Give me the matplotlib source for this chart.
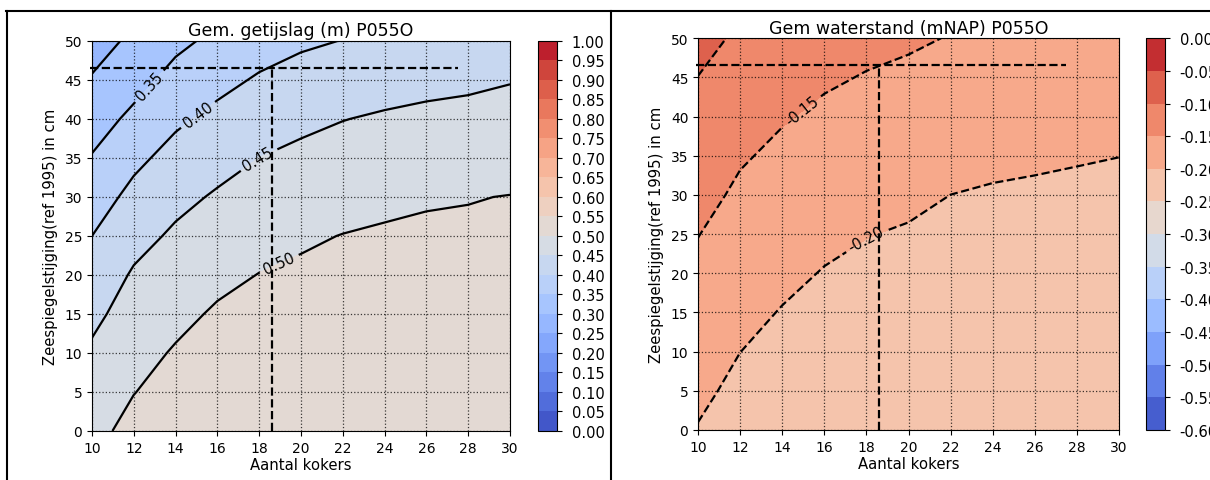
import numpy as np
import matplotlib
matplotlib.use('Agg')
import matplotlib.pyplot as plt
from matplotlib.lines import Line2D

# grid: aantal kokers (x) en zeespiegelstijging in cm (y)
kokers = [10, 12, 14, 16, 18, 20, 22, 24, 26, 28, 30]
stijging = [0, 5, 10, 15, 20, 25, 30, 35, 40, 45, 50]

# gemiddelde getijslag (m), rijen = stijging, kolommen = kokers
getijslag = [
    [0.488, 0.5125, 0.526, 0.535, 0.539, 0.541, 0.542, 0.542, 0.542, 0.542, 0.542],
    [0.472, 0.499, 0.515, 0.525, 0.530, 0.532, 0.534, 0.534, 0.534, 0.534, 0.535],
    [0.457, 0.485, 0.504, 0.514, 0.520, 0.523, 0.526, 0.526, 0.527, 0.527, 0.528],
    [0.439, 0.470, 0.4885, 0.5055, 0.510, 0.514, 0.517, 0.518, 0.520, 0.520, 0.521],
    [0.420, 0.455, 0.473, 0.489, 0.501, 0.5065, 0.509, 0.511, 0.512, 0.513, 0.514],
    [0.400, 0.435, 0.457, 0.472, 0.484, 0.4945, 0.501, 0.5045, 0.506, 0.506, 0.507],
    [0.377, 0.413, 0.438, 0.455, 0.467, 0.476, 0.484, 0.4915, 0.4965, 0.4985, 0.501],
    [0.353, 0.389, 0.416, 0.434, 0.4502, 0.460, 0.467, 0.472, 0.476, 0.479, 0.483],
    [0.328, 0.361, 0.392, 0.412, 0.427, 0.440, 0.449, 0.455, 0.459, 0.461, 0.466],
    [0.304, 0.333, 0.366, 0.387, 0.405, 0.417, 0.425, 0.433, 0.439, 0.443, 0.448],
    [0.279, 0.310, 0.339, 0.361, 0.380, 0.393, 0.401, 0.410, 0.417, 0.422, 0.427],
]

# gemiddelde waterstand (mNAP)
waterstand = [
    [-0.202, -0.218, -0.227, -0.233, -0.236, -0.237, -0.240, -0.240, -0.239, -0.238, -0.238],
    [-0.192, -0.209, -0.219, -0.225, -0.229, -0.230, -0.233, -0.233, -0.233, -0.233, -0.233],
    [-0.181, -0.1998, -0.210, -0.217, -0.221, -0.223, -0.226, -0.227, -0.227, -0.227, -0.227],
    [-0.171, -0.189, -0.202, -0.209, -0.214, -0.217, -0.220, -0.221, -0.221, -0.221, -0.222],
    [-0.160, -0.178, -0.191, -0.202, -0.207, -0.210, -0.213, -0.215, -0.215, -0.216, -0.216],
    [-0.149, -0.168, -0.180, -0.191, -0.199, -0.203, -0.207, -0.208, -0.209, -0.210, -0.211],
    [-0.137, -0.157, -0.169, -0.180, -0.187, -0.193, -0.2001, -0.2035, -0.205, -0.204, -0.205],
    [-0.125, -0.146, -0.158, -0.168, -0.175, -0.181, -0.188, -0.192, -0.195, -0.1985, -0.1998],
    [-0.113, -0.132, -0.147, -0.157, -0.164, -0.169, -0.176, -0.181, -0.184, -0.187, -0.190],
    [-0.1005, -0.119, -0.134, -0.145, -0.152, -0.157, -0.165, -0.170, -0.173, -0.176, -0.180],
    [-0.088, -0.106, -0.122, -0.133, -0.140, -0.145, -0.1515, -0.158, -0.162, -0.166, -0.170],
]

levels_getij = [round(0.05 * i, 2) for i in range(21)]
levels_water = [round(-0.6 + 0.05 * i, 2) for i in range(13)]

# gekozen punt (aantal kokers, stijging)
keuze_x = 18.6
keuze_y = 46.6
lijn_eind_x = 27.5

# label posities
labels_getij = [(12.5, 44.8), (15.0, 40.8), (17.8, 35.5), (18.9, 21.8)]
labels_water = [(14.8, 41.2), (17.9, 24.8)]

plt.rcParams['font.family'] = 'DejaVu Sans'
plt.rcParams['xtick.labelsize'] = 10
plt.rcParams['ytick.labelsize'] = 10

X, Y = np.meshgrid(kokers, stijging)

fig = plt.figure(figsize=(12.1, 4.81), dpi=100)


def panel(rect, cbrect, Z, levels, title, label_lvls, label_pos):
    ax = fig.add_axes(rect)
    Z = np.array(Z)
    cf = ax.contourf(X, Y, Z, levels=levels, cmap='coolwarm')
    other = [l for l in levels if l not in label_lvls]
    ax.contour(X, Y, Z, levels=other, colors='k', linewidths=1.6)
    cs = ax.contour(X, Y, Z, levels=label_lvls, colors='k', linewidths=1.6)
    ax.clabel(cs, fmt='%.2f', fontsize=10.5, inline=True, manual=label_pos)
    ax.plot([9.9, lijn_eind_x], [keuze_y, keuze_y], 'k--', lw=1.6, clip_on=False)
    ax.plot([keuze_x, keuze_x], [0, keuze_y], 'k--', lw=1.6)
    ax.set_xlim(10, 30)
    ax.set_ylim(0, 50)
    ax.set_xticks(kokers)
    ax.set_yticks(stijging)
    ax.grid(True, linestyle=':', color='k', linewidth=0.9, alpha=0.75)
    ax.set_title(title, fontsize=12.5, pad=4)
    ax.set_xlabel('Aantal kokers', fontsize=10.7, labelpad=2)
    ax.set_ylabel('Zeespiegelstijging(ref 1995) in cm', fontsize=10.7, labelpad=5)
    cax = fig.add_axes(cbrect)
    cb = fig.colorbar(cf, cax=cax, ticks=levels, format='%.2f')
    cb.outline.set_edgecolor('k')
    cax.tick_params(labelsize=10.5, pad=7)
    return ax


panel([0.0760, 0.1019, 0.3455, 0.8108], [0.4446, 0.1019, 0.0157, 0.8108],
      getijslag, levels_getij, 'Gem. getijslag (m) P055O',
      [0.35, 0.40, 0.45, 0.50], labels_getij)
panel([0.5769, 0.1040, 0.3479, 0.8143], [0.9471, 0.1040, 0.0157, 0.8143],
      waterstand, levels_water, 'Gem waterstand (mNAP) P055O',
      [-0.20, -0.15], labels_water)

# tabelranden
H = 481.0
W = 1210.0
fig.add_artist(Line2D([6 / W, 1.0], [1 - 12 / H, 1 - 12 / H], color='k', lw=1.5))
fig.add_artist(Line2D([6.5 / W, 6.5 / W], [0, 1 - 12 / H], color='k', lw=1.5))
fig.add_artist(Line2D([611 / W, 611 / W], [0, 1 - 12 / H], color='k', lw=1.5))

fig.savefig('out.png', dpi=100)
